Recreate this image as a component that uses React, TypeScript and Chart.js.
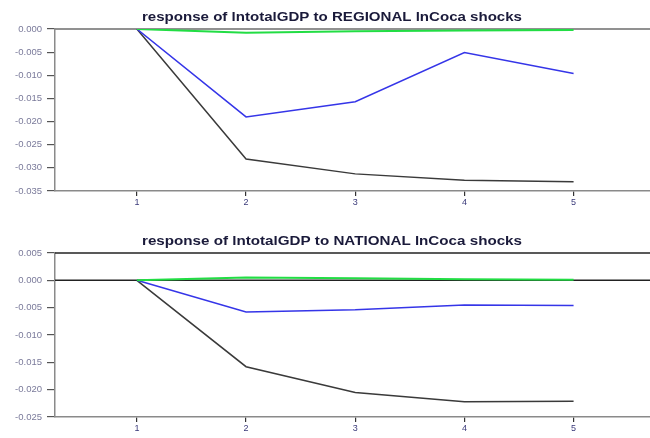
import React, { useEffect, useRef } from "react";
import { Chart, registerables } from "chart.js";

Chart.register(...registerables);

const periods = [1, 2, 3, 4, 5];
const regionalBlack = [0, -0.0281, -0.0313, -0.0327, -0.033];
const regionalBlue = [0, -0.019, -0.0157, -0.0051, -0.0096];
const regionalGreen = [0, -0.0008, -0.0005, -0.0003, -0.0002];
const nationalBlack = [0, -0.0158, -0.0205, -0.0222, -0.0221];
const nationalBlue = [0, -0.0058, -0.0054, -0.0045, -0.0046];
const nationalGreen = [0, 0.0005, 0.0004, 0.0002, 0.0001];

const regionalTitle = "response of lntotalGDP to REGIONAL lnCoca shocks";
const nationalTitle = "response of lntotalGDP to NATIONAL lnCoca shocks";
const regionalRange = [-0.035, 0.0];
const nationalRange = [-0.025, 0.005];

const toPts = (ys: number[]) => periods.map((p, i) => ({ x: p, y: ys[i] }));

const fmt = (v: number) => {
  const r = Math.round(v * 1000) / 1000;
  const s = Math.abs(r) < 1e-9 ? "0.000" : r.toFixed(3);
  return s;
};

function makeConfig(
  title: string,
  black: number[],
  blue: number[],
  green: number[],
  range: number[],
  padTop: number,
  titleY: number,
  xHeight: number,
  topColor: string
): any {
  const refLines = {
    id: "refLines",
    beforeDatasetsDraw(chart: any) {
      const { ctx, chartArea, scales } = chart;
      ctx.save();
      ctx.lineWidth = 1.5;
      ctx.strokeStyle = topColor;
      ctx.beginPath();
      ctx.moveTo(chartArea.left, chartArea.top);
      ctx.lineTo(chartArea.right, chartArea.top);
      ctx.stroke();
      const y0 = scales.y.getPixelForValue(0);
      ctx.beginPath();
      ctx.moveTo(chartArea.left, y0);
      ctx.lineTo(chartArea.right, y0);
      ctx.stroke();
      ctx.restore();
    },
    afterDraw(chart: any) {
      const { ctx } = chart;
      ctx.save();
      ctx.font = "bold 13px 'Liberation Sans', Arial, sans-serif";
      ctx.fillStyle = "#1a1a3a";
      ctx.textAlign = "center";
      ctx.textBaseline = "middle";
      const w = ctx.measureText(title).width;
      const sx = 380 / w;
      ctx.translate(332, titleY);
      ctx.scale(sx, 1);
      ctx.fillText(title, 0, 0);
      ctx.restore();
    },
  };
  return {
    type: "line",
    data: {
      datasets: [
        {
          data: toPts(green),
          borderColor: "#22dd44",
          borderWidth: 2,
          pointRadius: 0,
          tension: 0,
        },
        {
          data: toPts(blue),
          borderColor: "#3535e8",
          borderWidth: 1.5,
          pointRadius: 0,
          tension: 0,
        },
        {
          data: toPts(black),
          borderColor: "#3a3a3a",
          borderWidth: 1.5,
          pointRadius: 0,
          tension: 0,
        },
      ],
    },
    options: {
      responsive: false,
      animation: false,
      layout: { padding: { top: padTop, right: 0, bottom: 0, left: 0 } },
      plugins: {
        legend: { display: false },
        title: { display: false },
        tooltip: { enabled: false },
      },
      scales: {
        x: {
          type: "linear",
          min: 0.25,
          max: 5.7,
          afterBuildTicks(scale: any) {
            scale.ticks = periods.map((p) => ({ value: p }));
          },
          afterFit(scale: any) {
            scale.height = xHeight;
          },
          grid: {
            display: true,
            drawOnChartArea: false,
            drawTicks: true,
            tickLength: 5,
            color: "#333",
            lineWidth: 1.2,
          },
          border: { display: true, color: "#8a8a8a", width: 1.5 },
          ticks: {
            padding: 1,
            maxRotation: 0,
            autoSkip: false,
            color: "#3a3a7a",
            font: { size: 9, family: "'Liberation Sans', Arial, sans-serif" },
            callback: (v: any) => String(v),
          },
        },
        y: {
          min: range[0],
          max: range[1],
          afterBuildTicks(scale: any) {
            const t = [];
            for (let v = range[1]; v >= range[0] - 1e-9; v -= 0.005) {
              t.push({ value: Math.round(v * 1000) / 1000 });
            }
            scale.ticks = t;
          },
          afterFit(scale: any) {
            scale.width = 55;
          },
          grid: {
            display: true,
            drawOnChartArea: false,
            drawTicks: true,
            tickLength: 8,
            color: "#555",
            lineWidth: 1.2,
          },
          border: { display: true, color: "#8a8a8a", width: 1.5 },
          ticks: {
            padding: 5,
            color: "#7a7a9a",
            font: { size: 9.5, family: "'Liberation Sans', Arial, sans-serif" },
            callback: (v: any) => fmt(Number(v)),
          },
        },
      },
    },
    plugins: [refLines],
  };
}

function Panel(props: { config: any; top: number; height: number }) {
  const ref = useRef<HTMLCanvasElement>(null);
  useEffect(() => {
    if (!ref.current) return;
    const chart = new Chart(ref.current, props.config);
    return () => chart.destroy();
  }, []);
  return (
    <canvas
      ref={ref}
      width={650}
      height={props.height}
      style={{ position: "absolute", left: 0, top: props.top, width: 650, height: props.height }}
    />
  );
}

export default function App() {
  const topCfg = makeConfig(
    regionalTitle,
    regionalBlack,
    regionalBlue,
    regionalGreen,
    regionalRange,
    29,
    17,
    29,
    "#8a8a8a"
  );
  const botCfg = makeConfig(
    nationalTitle,
    nationalBlack,
    nationalBlue,
    nationalGreen,
    nationalRange,
    33,
    21,
    21,
    "#222"
  );
  return (
    <div style={{ position: "absolute", left: 0, top: 0, width: 650, height: 438, background: "#fff", overflow: "hidden" }}>
      <Panel config={topCfg} top={0} height={220} />
      <Panel config={botCfg} top={220} height={218} />
    </div>
  );
}
